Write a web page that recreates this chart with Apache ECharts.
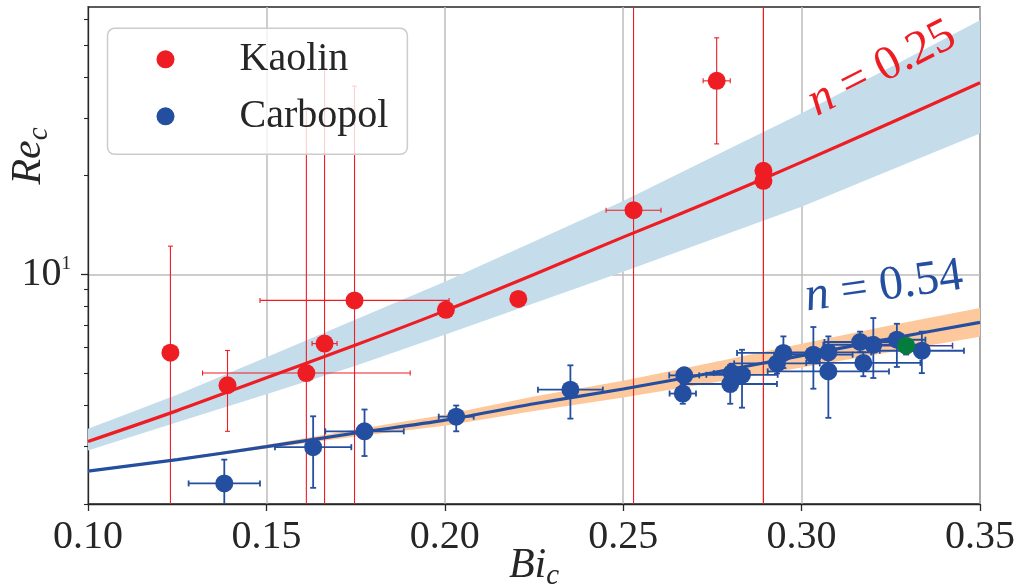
<!DOCTYPE html>
<html><head><meta charset="utf-8">
<script src="https://cdn.jsdelivr.net/npm/echarts@6/dist/echarts.min.js"></script>
<style>html,body{margin:0;padding:0;background:#fff}#c{width:1018px;height:587px}</style>
</head><body><div id="c"></div>
<script>
// ---------- data ----------
const kaolinBi     = [0.1231, 0.1391, 0.1612, 0.1663, 0.1747, 0.2003, 0.2206, 0.2529, 0.2762, 0.2893, 0.2893];
const kaolinRe     = [5.78, 4.60, 5.01, 6.16, 8.34, 7.81, 8.43, 15.7, 38.9, 20.7, 19.3];
const kaolinBiErr  = [0, 0, 0.0291, 0.0035, 0.0265, 0, 0, 0.0077, 0.0038, 0, 0];
const kaolinReLow  = [1.0, 3.33, 1.0, 1.0, 1.0, 7.81, 8.43, 1.0, 25.0, 1.0, 1.0];
const kaolinReHigh = [12.2, 5.87, 32.1, 42.4, 37.5, 7.81, 8.43, 100, 52.6, 100, 100];

const carbopolBi     = [0.1382, 0.1631, 0.1775, 0.2032, 0.2352, 0.2671, 0.2667, 0.2800, 0.2804, 0.2833, 0.2931, 0.2949, 0.3033, 0.3075, 0.3075, 0.3164, 0.3201, 0.3173, 0.3267, 0.3337];
const carbopolRe     = [2.31, 2.98, 3.33, 3.69, 4.46, 4.93, 4.34, 4.64, 5.01, 4.95, 5.36, 5.77, 5.70, 5.79, 5.07, 6.23, 6.11, 5.38, 6.33, 5.86];
const carbopolBiErr  = [0.0100, 0.0107, 0.0110, 0.0049, 0.0091, 0.0042, 0.0037, 0.0131, 0.0050, 0.0100, 0.0120, 0.0130, 0.0110, 0.0120, 0.0170, 0.0100, 0.0140, 0.0160, 0.0080, 0.0118];
const carbopolReLow  = [1.9, 2.24, 2.80, 3.33, 3.64, 4.65, 4.04, 4.04, 4.70, 3.93, 5.00, 5.19, 4.49, 5.20, 3.66, 5.80, 4.84, 4.90, 5.23, 5.01];
const carbopolReHigh = [2.73, 3.70, 3.88, 3.99, 5.29, 5.20, 4.64, 5.30, 5.35, 5.90, 5.70, 6.48, 6.92, 6.48, 5.90, 6.70, 7.37, 5.80, 7.08, 6.70];

const specialBi = [0.3293];
const specialRe = [6.07];
const specialBiErr = [0.013];
const specialReLow = [5.70];
const specialReHigh = [6.50];

const fitBi            = [0.100, 0.125, 0.150, 0.175, 0.200, 0.225, 0.250, 0.275, 0.300, 0.325, 0.350];
const kaolinFit        = [3.10, 3.85, 4.85, 6.10, 7.75, 10.0, 13.0, 16.8, 22.0, 29.0, 38.4];
const kaolinBandLow    = [2.91, 3.55, 4.32, 5.27, 6.56, 8.18, 10.2, 12.8, 16.1, 20.8, 26.9];
const kaolinBandHigh   = [3.39, 4.30, 5.60, 7.30, 9.50, 12.6, 16.75, 22.8, 31.0, 42.9, 59.5];
const carbopolFit      = [2.52, 2.73, 2.99, 3.29, 3.60, 4.04, 4.48, 5.02, 5.66, 6.38, 7.15];
const carbopolBandLow  = [2.50, 2.71, 2.95, 3.21, 3.46, 3.84, 4.22, 4.68, 5.21, 5.81, 6.46];
const carbopolBandHigh = [2.54, 2.75, 3.03, 3.37, 3.74, 4.25, 4.75, 5.40, 6.15, 7.01, 7.91];

const yMajorTicks = [10];
const yMinorTicks = [2, 3, 4, 5, 6, 7, 8, 9, 20, 30, 40, 50, 60];
const X_MIN = 0.10, X_MAX = 0.35, Y_MIN = 2.0, Y_MAX = 65.3;

// ---------- styling ----------
const RED = '#ee1d24', BLUE = '#244fa1', GREEN = '#047c3d';
const LBLUE = '#c5ddeb', ORANGE = '#fdc89b';
const SERIF = '"Liberation Serif", "DejaVu Serif", serif';
const TXT = '#262626';

function zip(a, b) { return a.map((v, i) => [v, b[i]]); }
function errData(bi, re, be, lo, hi) {
  return bi.map((v, i) => [v, re[i], v - be[i], v + be[i], lo[i], hi[i]]);
}
function bandData(bi, lo, hi) { return bi.map((v, i) => [v, lo[i], hi[i]]); }

function errRender(color, width, cap) {
  return function (params, api) {
    const bi = api.value(0), re = api.value(1);
    const xl = api.value(2), xh = api.value(3), yl = api.value(4), yh = api.value(5);
    const ch = [];
    const st = { stroke: color, lineWidth: width };
    if (xh > xl) {
      const a = api.coord([xl, re]), b = api.coord([xh, re]);
      ch.push({ type: 'line', shape: { x1: a[0], y1: a[1], x2: b[0], y2: b[1] }, style: st });
      ch.push({ type: 'line', shape: { x1: a[0], y1: a[1] - cap, x2: a[0], y2: a[1] + cap }, style: st });
      ch.push({ type: 'line', shape: { x1: b[0], y1: b[1] - cap, x2: b[0], y2: b[1] + cap }, style: st });
    }
    if (yh > yl) {
      const lo = Math.max(yl, Y_MIN), hi = Math.min(yh, Y_MAX);
      const a = api.coord([bi, lo]), b = api.coord([bi, hi]);
      ch.push({ type: 'line', shape: { x1: a[0], y1: a[1], x2: b[0], y2: b[1] }, style: st });
      if (yl >= Y_MIN) ch.push({ type: 'line', shape: { x1: a[0] - cap, y1: a[1], x2: a[0] + cap, y2: a[1] }, style: st });
      if (yh <= Y_MAX) ch.push({ type: 'line', shape: { x1: b[0] - cap, y1: b[1], x2: b[0] + cap, y2: b[1] }, style: st });
    }
    return { type: 'group', children: ch };
  };
}

const bandCache = {};
bandCache[LBLUE] = bandData(fitBi, kaolinBandLow, kaolinBandHigh);
bandCache[ORANGE] = bandData(fitBi, carbopolBandLow, carbopolBandHigh);
function bandRender(color) {
  return function (params, api) {
    if (params.dataIndex !== 0) return null;
    const data = bandCache[color];
    const up = [], dn = [];
    for (let i = 0; i < data.length; i++) {
      up.push(api.coord([data[i][0], data[i][2]]));
      dn.push(api.coord([data[i][0], data[i][1]]));
    }
    return { type: 'polygon', shape: { points: up.concat(dn.reverse()) }, style: { fill: color } };
  };
}

function fnt(style, size) { return style + ' ' + size + 'px "Liberation Serif", serif'; }

const chart = echarts.init(document.getElementById('c'), null, { renderer: 'canvas' });

const option = {
  animation: false,
  backgroundColor: '#ffffff',
  grid: { left: 88, top: 7, width: 892, height: 497, show: true, borderColor: TXT, borderWidth: 1.3, backgroundColor: 'transparent', containLabel: false },
  xAxis: {
    type: 'value', min: X_MIN, max: X_MAX, interval: 0.05,
    axisLine: { show: true, onZero: false, lineStyle: { color: TXT, width: 1.3 } },
    axisTick: { show: true, inside: false, length: 7, lineStyle: { color: TXT, width: 1.3 } },
    axisLabel: { color: TXT, fontFamily: SERIF, fontSize: 40, lineHeight: 40, margin: 13,
      formatter: v => v.toFixed(2) },
    splitLine: { show: true, lineStyle: { color: '#bdbdbd', width: 1.5 } }
  },
  yAxis: [{
    type: 'log', logBase: 10, min: Y_MIN, max: Y_MAX,
    axisLine: { show: true, onZero: false, lineStyle: { color: TXT, width: 1.3 } },
    axisTick: { show: true, inside: false, length: 7, customValues: yMajorTicks, lineStyle: { color: TXT, width: 1.3 } },
    axisLabel: { customValues: yMajorTicks, margin: 17,
      formatter: v => (Math.abs(v - 10) < 1e-6 ? '{b|10}{s|1}' : ''),
      rich: { b: { fontFamily: SERIF, fontSize: 40, color: TXT, lineHeight: 40 },
              s: { fontFamily: SERIF, fontSize: 19, color: TXT, lineHeight: 26, verticalAlign: 'top' } } },
    splitLine: { show: true, lineStyle: { color: '#bdbdbd', width: 1.5 } }
  }, {
    type: 'log', logBase: 10, min: Y_MIN, max: Y_MAX, position: 'left',
    axisLine: { show: false },
    axisTick: { show: true, inside: false, length: 4, customValues: yMinorTicks, lineStyle: { color: TXT, width: 1.1 } },
    axisLabel: { show: false },
    splitLine: { show: false }
  }],
  legend: {
    orient: 'vertical', left: 107.5, top: 28.3, z: 20, zlevel: 1,
    data: ['Kaolin', 'Carbopol'],
    itemWidth: 18, itemHeight: 18, itemGap: 13,
    padding: [9, 19, 16, 49],
    backgroundColor: 'rgba(255,255,255,0.8)', borderColor: '#cccccc', borderWidth: 1.5, borderRadius: 7,
    textStyle: { fontFamily: SERIF, fontSize: 40, lineHeight: 44, color: TXT, padding: [0, 0, 0, 60] }
  },
  series: [
    { type: 'custom', name: 'kaolinBand', coordinateSystem: 'cartesian2d', z: 1, silent: true,
      data: bandCache[LBLUE], encode: { x: 0, y: 1 }, renderItem: bandRender(LBLUE) },
    { type: 'custom', name: 'carbopolBand', coordinateSystem: 'cartesian2d', z: 1, silent: true,
      data: bandCache[ORANGE], encode: { x: 0, y: 1 }, renderItem: bandRender(ORANGE) },
    { type: 'custom', name: 'kaolinErr', coordinateSystem: 'cartesian2d', z: 2, silent: true,
      data: errData(kaolinBi, kaolinRe, kaolinBiErr, kaolinReLow, kaolinReHigh),
      encode: { x: 0, y: 1 }, renderItem: errRender(RED, 1.1, 2.5) },
    { type: 'line', name: 'kaolinFit', data: zip(fitBi, kaolinFit), showSymbol: false, smooth: 0.3, z: 3,
      lineStyle: { color: RED, width: 3.2 }, itemStyle: { color: RED } },
    { type: 'line', name: 'carbopolFit', data: zip(fitBi, carbopolFit), showSymbol: false, smooth: 0.3, z: 3,
      lineStyle: { color: BLUE, width: 3.2 }, itemStyle: { color: BLUE } },
    { type: 'scatter', name: 'Kaolin', data: zip(kaolinBi, kaolinRe), symbol: 'circle', symbolSize: 18, z: 4,
      itemStyle: { color: RED, opacity: 1 } },
    { type: 'custom', name: 'carbopolErr', coordinateSystem: 'cartesian2d', z: 5, silent: true,
      data: errData(carbopolBi, carbopolRe, carbopolBiErr, carbopolReLow, carbopolReHigh),
      encode: { x: 0, y: 1 }, renderItem: errRender(BLUE, 1.8, 3) },
    { type: 'scatter', name: 'Carbopol', data: zip(carbopolBi, carbopolRe), symbol: 'circle', symbolSize: 18, z: 6,
      itemStyle: { color: BLUE, opacity: 1 } },
    { type: 'custom', name: 'specialErr', coordinateSystem: 'cartesian2d', z: 6, silent: true,
      data: errData(specialBi, specialRe, specialBiErr, specialReLow, specialReHigh),
      encode: { x: 0, y: 1 }, renderItem: errRender('#4a3f95', 1.5, 3) },
    { type: 'scatter', name: 'special', data: zip(specialBi, specialRe), symbol: 'circle', symbolSize: 18, z: 7,
      itemStyle: { color: GREEN, opacity: 1 } }
  ],
  graphic: [
    { type: 'text', x: 29, y: 156, rotation: Math.PI / 2, z: 30,
      style: { text: '{m|Re}{s|c}', align: 'center', verticalAlign: 'middle',
        rich: { m: { font: fnt('italic', 42), fill: TXT, lineHeight: 50 },
                s: { font: fnt('italic', 29), fill: TXT, lineHeight: 22, verticalAlign: 'bottom' } } } },
    { type: 'text', x: 534, y: 566, z: 30,
      style: { text: '{m|Bi}{s|c}', align: 'center', verticalAlign: 'middle',
        rich: { m: { font: fnt('italic', 42), fill: TXT, lineHeight: 50 },
                s: { font: fnt('italic', 29), fill: TXT, lineHeight: 22, verticalAlign: 'bottom' } } } },
    { type: 'text', x: 882, y: 69, rotation: 27 * Math.PI / 180, z: 30,
      style: { text: '{i|n}{r| = 0.25}', align: 'center', verticalAlign: 'middle',
        rich: { i: { font: fnt('italic', 48), fill: RED, lineHeight: 52 },
                r: { font: fnt('normal', 48), fill: RED, lineHeight: 52 } } } },
    { type: 'text', x: 884, y: 287, rotation: 8 * Math.PI / 180, z: 30,
      style: { text: '{i|n}{r| = 0.54}', align: 'center', verticalAlign: 'middle',
        rich: { i: { font: fnt('italic', 48), fill: BLUE, lineHeight: 52 },
                r: { font: fnt('normal', 48), fill: BLUE, lineHeight: 52 } } } }
  ]
};
chart.setOption(option);
</script>
</body></html>
